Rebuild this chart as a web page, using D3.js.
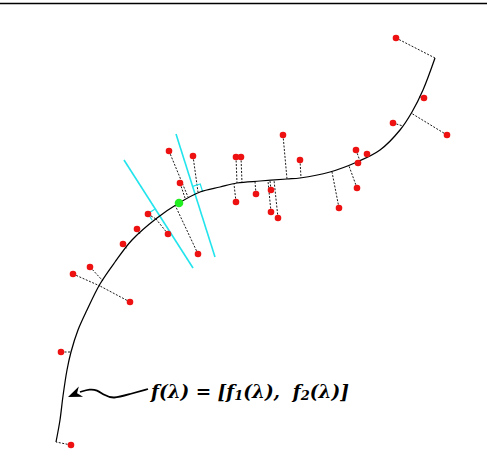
<!DOCTYPE html>
<html>
<head>
<meta charset="UTF-8">
<title>Principal curve</title>
<style>
  body { margin: 0; background: #fff; }
  svg { display: block; }
  .label { font-family: "DejaVu Serif", serif; font-weight: bold; font-style: italic; white-space: pre; }
</style>
</head>
<body>
<svg id="chart" width="487" height="473"></svg>

<script src="https://d3js.org/d3.v7.min.js"></script>
<script>
// smooth curve f(lambda), data units
const curvePts = [
  [0.15, 0.2], [0.25, 0.75], [0.325, 1.35], [0.425, 2.0], [0.525, 2.45],
  [0.7, 3.0], [0.925, 3.5], [1.25, 4.15], [1.625, 4.7], [2.05, 5.25],
  [2.675, 5.8], [3.225, 6.175], [3.75, 6.45], [4.25, 6.575], [4.675, 6.675],
  [5.25, 6.725], [5.925, 6.775], [6.25, 6.8], [7.0, 6.95], [7.675, 7.2],
  [8.25, 7.5], [8.75, 8.0], [9.05, 8.45], [9.325, 9.0], [9.625, 9.8]
];

// observations and where they project onto the curve
const obsX  = [8.65, 9.35, 8.575, 9.925, 7.925, 7.65, 7.7, 7.675, 7.225, 6.25, 5.825, 5.525, 5.525, 5.7, 5.15, 4.65, 4.65, 4.775, 3.575, 2.975, 3.25, 3.7, 2.45, 2.95, 2.175, 1.825, 1.0, 0.575, 2.0, 0.275, 0.525];
const obsY  = [10.3, 8.8, 8.175, 7.875, 7.4, 7.5, 7.175, 6.55, 6.05, 7.25, 7.875, 6.5, 5.95, 5.8, 6.4, 6.2, 7.325, 7.325, 7.35, 7.475, 6.675, 4.9, 5.9, 5.4, 5.525, 5.15, 4.575, 4.4, 3.7, 2.45, 0.125];
const projX = [9.625, 9.225, 8.825, 9.025, 7.9, 7.75, 7.7, 7.475, 7.05, 6.275, 5.925, 5.5, 5.45, 5.6, 5.125, 4.6, 4.675, 4.8, 3.7, 3.45, 3.375, 3.125, 2.65, 2.65, 2.25, 1.925, 1.325, 1.25, 1.25, 0.525, 0.15];
const projY = [9.8, 8.825, 8.1, 8.425, 7.325, 7.225, 7.175, 7.1, 6.95, 6.8, 6.775, 6.725, 6.725, 6.75, 6.7, 6.65, 6.675, 6.675, 6.45, 6.325, 6.3, 6.125, 5.775, 5.775, 5.4, 5.025, 4.225, 4.1, 4.1, 2.45, 0.2];

// highlighted point on the curve
const greenPt = [3.225, 6.175];

// two normal lines: start, end, foot on curve, side of the right-angle mark
const normStart = [[1.85, 7.25], [3.15, 7.9]];
const normEnd   = [[3.575, 4.55], [4.125, 4.825]];
const normFoot  = [[2.725, 5.85], [3.625, 6.4]];
const normSide  = [-1, 1];

// annotation arrow
const arrowPts = [[2.45, 1.525], [2.0, 1.4], [1.575, 1.275], [1.35, 1.375], [1.175, 1.5], [1.0, 1.525], [0.75, 1.45]];
const arrowTip = [0.45, 1.325];

const width = 487, height = 473;
const svg = d3.select("#chart");

const x = d3.scaleLinear().domain([0, 10]).range([50, 450]);
const y = d3.scaleLinear().domain([0, 10]).range([450, 50]);

// top rule
svg.append("line")
  .attr("x1", 0).attr("x2", width)
  .attr("y1", 3.5).attr("y2", 3.5)
  .attr("stroke", "#000").attr("stroke-width", 1.4);

// dashed projections
const obs = obsX.map((d, i) => ({x: d, y: obsY[i], px: projX[i], py: projY[i]}));
svg.append("g")
  .selectAll("line")
  .data(obs)
  .join("line")
  .attr("x1", d => x(d.x)).attr("y1", d => y(d.y))
  .attr("x2", d => x(d.px)).attr("y2", d => y(d.py))
  .attr("stroke", "#000")
  .attr("stroke-width", 0.9)
  .attr("stroke-dasharray", "2,1.5");

// normals
const norms = normStart.map((s, i) => ({s: s, e: normEnd[i], f: normFoot[i], side: normSide[i]}));
svg.append("g")
  .selectAll("line")
  .data(norms)
  .join("line")
  .attr("x1", d => x(d.s[0])).attr("y1", d => y(d.s[1]))
  .attr("x2", d => x(d.e[0])).attr("y2", d => y(d.e[1]))
  .attr("stroke", "#22e4ec")
  .attr("stroke-width", 1.6);

// right-angle marks
const sq = 8;
svg.append("g")
  .selectAll("path")
  .data(norms)
  .join("path")
  .attr("fill", "none")
  .attr("stroke", "#22e4ec")
  .attr("stroke-width", 1.3)
  .attr("d", d => {
    let fx = x(d.f[0]), fy = y(d.f[1]);
    let bx = x(d.s[0]) - fx, by = y(d.s[1]) - fy;
    let len = Math.hypot(bx, by);
    bx /= len; by /= len;
    let ax = -by * d.side, ay = bx * d.side;
    return "M" + (fx + ax * sq) + "," + (fy + ay * sq)
      + "L" + (fx + ax * sq + bx * sq) + "," + (fy + ay * sq + by * sq)
      + "L" + (fx + bx * sq) + "," + (fy + by * sq);
  });

// the curve
svg.append("path")
  .datum(curvePts)
  .attr("fill", "none")
  .attr("stroke", "#000")
  .attr("stroke-width", 1.25)
  .attr("d", d3.line().x(d => x(d[0])).y(d => y(d[1])).curve(d3.curveCatmullRom.alpha(0.5)));

// observations
svg.append("g")
  .selectAll("circle")
  .data(obs)
  .join("circle")
  .attr("cx", d => x(d.x)).attr("cy", d => y(d.y))
  .attr("r", 3.3)
  .attr("fill", "#ee1111");

svg.append("circle")
  .attr("cx", x(greenPt[0])).attr("cy", y(greenPt[1]))
  .attr("r", 4.3)
  .attr("fill", "#22ee22");

// arrow + label
svg.append("path")
  .datum(arrowPts)
  .attr("fill", "none")
  .attr("stroke", "#000")
  .attr("stroke-width", 1.8)
  .attr("d", d3.line().x(d => x(d[0])).y(d => y(d[1])).curve(d3.curveBasis));

let last = arrowPts[arrowPts.length - 1];
let tx = x(arrowTip[0]), ty = y(arrowTip[1]);
let dx = tx - x(last[0]), dy = ty - y(last[1]);
let dl = Math.hypot(dx, dy); dx /= dl; dy /= dl;
let hl = 14, hw = 5.5;
svg.append("path")
  .attr("fill", "#000")
  .attr("d", "M" + tx + "," + ty
    + "L" + (tx - dx * hl - dy * hw) + "," + (ty - dy * hl + dx * hw)
    + "L" + (tx - dx * hl * 0.7) + "," + (ty - dy * hl * 0.7)
    + "L" + (tx - dx * hl + dy * hw) + "," + (ty - dy * hl - dx * hw) + "Z");

let fs = 19;
const label = svg.append("text")
  .attr("class", "label")
  .attr("x", 151).attr("y", 398)
  .attr("font-size", fs);
label.append("tspan").text("f(λ) = [f");
label.append("tspan").attr("class", "sub").attr("dy", 2).text("1");
label.append("tspan").attr("dy", -2).text("(λ),  f");
label.append("tspan").attr("class", "sub").attr("dy", 2).text("2");
label.append("tspan").attr("dy", -2).text("(λ)]");
label.selectAll(".sub").attr("font-size", fs * 0.7);

// fit the label to the width seen in the reference (~198px)
let w = label.node().getComputedTextLength();
fs = fs * 198 / w;
label.attr("font-size", fs);
label.selectAll(".sub").attr("font-size", fs * 0.7);
</script>
</body>
</html>
